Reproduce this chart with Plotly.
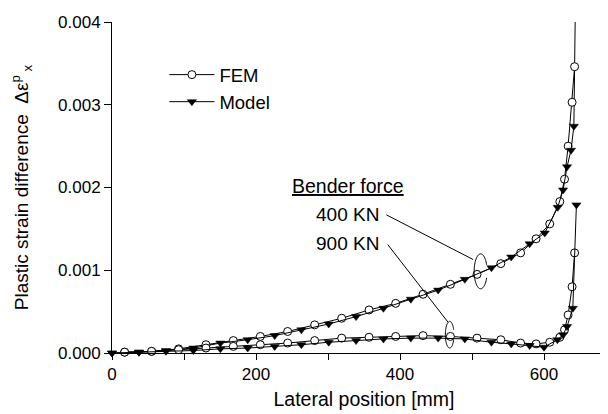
import numpy as np
import plotly.graph_objects as go

# ---------------- data ----------------
fem_x = [17.5, 55, 92.5, 130.5, 168.5, 206, 244, 281.5, 319, 357, 394, 432, 470,
         507, 540, 567.5, 589, 608, 622, 628.5, 633.5, 639, 642.5]
fem_400 = [0.00001, 0.00002, 0.00005, 0.00010, 0.00015, 0.00020, 0.00026, 0.00034,
           0.00042, 0.00052, 0.00060, 0.00071, 0.00083, 0.00095, 0.00108, 0.00121,
           0.00138, 0.00156, 0.00183, 0.00210, 0.00250, 0.00303, 0.00346]
fem_900 = [0.00001, 0.00002, 0.00004, 0.00006, 0.00008, 0.00010, 0.00012, 0.00015,
           0.00018, 0.00019, 0.00020, 0.00021, 0.00020, 0.00018, 0.00016, 0.00012,
           0.00011, 0.00013, 0.00019, 0.00028, 0.00046, 0.00080, 0.00121]

model_400_x = [0, 37.5, 75, 113, 150.5, 188.5, 226, 263, 301, 339, 377, 415, 453,
               490, 527, 554.5, 580, 601, 619, 626.5, 632, 637.5, 641.5, 644]
model_400 = [0.0, 0.00001, 0.00003, 0.00006, 0.00012, 0.00016, 0.00021, 0.00028,
             0.00035, 0.00044, 0.00054, 0.00065, 0.00076, 0.00089, 0.00103, 0.00116,
             0.00132, 0.00145, 0.00176, 0.00197, 0.00225, 0.00245, 0.00274, 0.00450]

model_900_x = [0, 37.5, 75, 113, 150.5, 188.5, 226, 263, 301, 339, 377, 415, 453,
               490, 527, 554.5, 580, 600, 618.5, 626.5, 632, 640, 645]
model_900 = [0.0, 0.00001, 0.00002, 0.00003, 0.00005, 0.00006, 0.00008, 0.00010,
             0.00013, 0.00015, 0.00017, 0.00018, 0.00018, 0.00017, 0.00013, 0.00011,
             0.00009, 0.00007, 0.00016, 0.00022, 0.00032, 0.00054, 0.00179]

x_ticks = [0, 200, 400, 600]
y_ticks = [0.0, 0.001, 0.002, 0.003, 0.004]

FONT = "Liberation Sans, Arial, sans-serif"

fem_marker = dict(symbol="circle", size=8, color="white", line=dict(color="black", width=1))
mod_marker = dict(symbol="triangle-down", size=8, color="black", line=dict(color="black", width=0.5))
line_style = dict(color="black", width=1)

fig = go.Figure()

# 400 KN model: the last point lies above the plotted range -> line-only extension
fig.add_trace(go.Scatter(x=model_400_x[-2:], y=model_400[-2:], mode="lines",
                         line=line_style, showlegend=False, hoverinfo="skip"))
fig.add_trace(go.Scatter(x=fem_x, y=fem_400, mode="lines+markers", name="FEM",
                         line=line_style, marker=fem_marker, cliponaxis=False,
                         legendrank=1))
fig.add_trace(go.Scatter(x=model_400_x[:-1], y=model_400[:-1], mode="lines+markers",
                         name="Model", line=line_style, marker=mod_marker,
                         cliponaxis=False, legendrank=2))
fig.add_trace(go.Scatter(x=fem_x, y=fem_900, mode="lines+markers", name="FEM",
                         line=line_style, marker=fem_marker, cliponaxis=False,
                         showlegend=False))
fig.add_trace(go.Scatter(x=model_900_x, y=model_900, mode="lines+markers",
                         name="Model", line=line_style, marker=mod_marker,
                         cliponaxis=False, showlegend=False))


def ring_path(cx, cy, rx, ry, gap_deg=22, n=60):
    # ellipse outline opened on its right side (where the curve passes in front)
    angs = np.radians(np.linspace(gap_deg, 360 - gap_deg, n))
    xs = cx + rx * np.cos(angs)
    ys = cy + ry * np.sin(angs)
    return "M " + " L ".join(f"{a:.3f},{b:.7f}" for a, b in zip(xs, ys))


shapes = [
    dict(type="line", xref="x", yref="y", x0=381, y0=0.00167, x1=501.5, y1=0.00113,
         line=dict(color="black", width=1)),
    dict(type="line", xref="x", yref="y", x0=383, y0=0.00131, x1=466.5, y1=0.000375,
         line=dict(color="black", width=1)),
    dict(type="path", xref="x", yref="y", path=ring_path(512, 0.000987, 9, 0.000211),
         line=dict(color="black", width=1)),
    dict(type="path", xref="x", yref="y", path=ring_path(469, 0.000221, 6, 0.000161),
         line=dict(color="black", width=1)),
]

annotations = [
    dict(text="<u>Bender force</u>", x=0.468, y=0.5045, xref="paper", yref="paper",
         xanchor="center", yanchor="middle",
         showarrow=False, borderpad=0, font=dict(size=19.5, color="black", family=FONT)),
    dict(text="400 KN", x=0.532, y=0.418, xref="paper", yref="paper",
         xanchor="right", yanchor="middle",
         showarrow=False, borderpad=0, font=dict(size=19, color="black", family=FONT)),
    dict(text="900 KN", x=0.532, y=0.330, xref="paper", yref="paper",
         xanchor="right", yanchor="middle",
         showarrow=False, borderpad=0, font=dict(size=19, color="black", family=FONT)),
]

fig.update_layout(
    width=608, height=414,
    margin=dict(l=104, r=0, t=14, b=69),
    paper_bgcolor="white", plot_bgcolor="white",
    font=dict(family=FONT, color="black", size=17),
    shapes=shapes, annotations=annotations,
    showlegend=True,
    legend=dict(x=0.104, y=0.897, xanchor="left", yanchor="top",
                bgcolor="rgba(0,0,0,0)", font=dict(size=18.5, family=FONT),
                itemwidth=45, tracegroupgap=0),
)
fig.update_xaxes(range=[0, 700], tickvals=x_ticks,
                 showline=True, linecolor="black", linewidth=1, ticks="outside",
                 ticklen=6, tickcolor="black", showgrid=False, zeroline=False,
                 minor=dict(dtick=100, tick0=0, ticks="outside", ticklen=6,
                            tickcolor="black", showgrid=False),
                 title=dict(text="Lateral position [mm]", font=dict(size=19.5), standoff=8),
                 tickfont=dict(size=17))
fig.update_yaxes(range=[0, 0.004], tickvals=y_ticks, tickformat=".3f",
                 showline=True, linecolor="black", linewidth=1, ticks="outside",
                 ticklen=7, tickcolor="black", showgrid=False, zeroline=False,
                 title=dict(text="Plastic strain difference  Δε<sup>p</sup><sub> x</sub>",
                            font=dict(size=19), standoff=24),
                 tickfont=dict(size=17))

fig.write_html("out.html")
